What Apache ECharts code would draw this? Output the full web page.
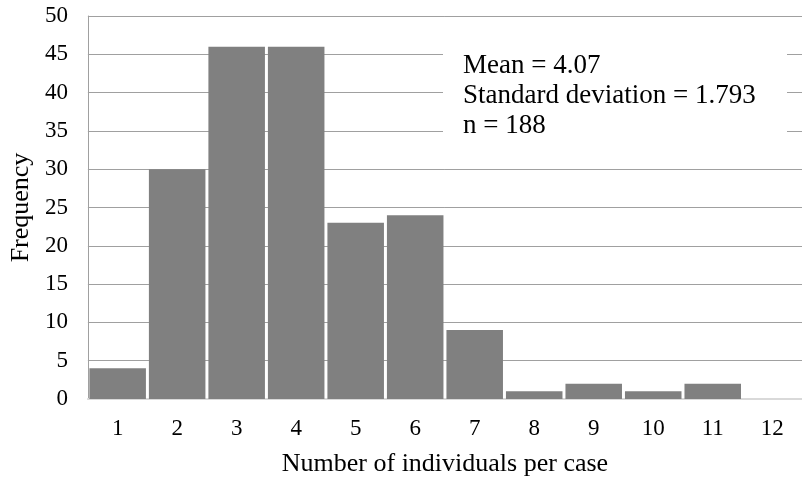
<!DOCTYPE html>
<html>
<head>
<meta charset="utf-8">
<script src="https://cdn.jsdelivr.net/npm/echarts@6/dist/echarts.min.js"></script>
<style>html,body{margin:0;padding:0;background:#fff}#c{width:802px;height:482px}</style>
</head>
<body>
<div id="c"></div>
<script>
const categories = ['1','2','3','4','5','6','7','8','9','10','11','12'];
const frequency = [4, 30, 46, 46, 23, 24, 9, 1, 2, 1, 2, 0];
const statsLines = ['Mean = 4.07', 'Standard deviation = 1.793', 'n = 188'];
const xTitle = 'Number of individuals per case';
const yTitle = 'Frequency';

const FONT = '"Liberation Serif", "Times New Roman", serif';
const chart = echarts.init(document.getElementById('c'), null, {renderer: 'canvas'});
chart.setOption({
  animation: false,
  backgroundColor: '#fff',
  grid: {left: 85, top: 16, width: 720, height: 386, containLabel: false},
  xAxis: {
    type: 'category',
    data: categories,
    name: xTitle,
    nameLocation: 'middle',
    nameGap: 52,
    nameTextStyle: {fontFamily: FONT, fontSize: 26, color: '#000'},
    axisLine: {show: true, lineStyle: {color: '#d9d9d9', width: 2}},
    axisTick: {show: false},
    axisLabel: {fontFamily: FONT, fontSize: 23, color: '#000', margin: 18, interval: 0},
    splitLine: {show: false}
  },
  yAxis: {
    type: 'value',
    min: 0, max: 50, interval: 5,
    name: yTitle,
    nameLocation: 'middle',
    nameGap: 52,
    nameTextStyle: {fontFamily: FONT, fontSize: 26, color: '#000'},
    axisLine: {show: true, lineStyle: {color: '#a0a0a0', width: 1}},
    axisTick: {show: false},
    axisLabel: {fontFamily: FONT, fontSize: 23, color: '#000', margin: 20},
    splitLine: {show: true, lineStyle: {color: '#a0a0a0', width: 1}}
  },
  series: [{
    type: 'bar',
    data: frequency,
    barCategoryGap: '5%',
    itemStyle: {color: '#808080'}
  }],
  graphic: [
    {type: 'rect', z: 100, shape: {x: 443, y: 44, width: 344, height: 116}, style: {fill: '#fff'}},
    {type: 'text', z: 101, x: 463, y: 51,
     style: {text: statsLines.join('\n'), font: '27px ' + FONT, fill: '#000', lineHeight: 30}}
  ]
});
</script>
</body>
</html>
